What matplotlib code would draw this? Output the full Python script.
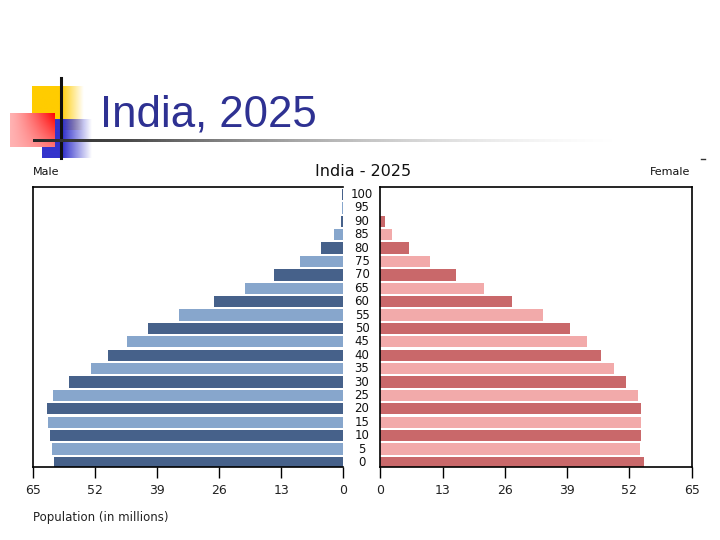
import numpy as np
import matplotlib.pyplot as plt
from matplotlib.lines import Line2D
from matplotlib.transforms import blended_transform_factory

# population pyramid data, millions (index 0 = age 0-4)
ages = [0, 5, 10, 15, 20, 25, 30, 35, 40, 45, 50, 55, 60, 65, 70, 75, 80, 85, 90, 95, 100]
male = [60.6, 61.0, 61.4, 61.9, 62.1, 60.8, 57.3, 52.9, 49.3, 45.2, 40.8,
        34.3, 27.0, 20.5, 14.5, 9.0, 4.7, 1.9, 0.5, 0.2, 0.3]
female = [55.0, 54.2, 54.4, 54.4, 54.4, 53.8, 51.3, 48.8, 46.1, 43.1, 39.6,
          34.0, 27.5, 21.6, 15.8, 10.4, 6.0, 2.4, 1.0, 0.0, 0.0]
xticks = [0, 13, 26, 39, 52, 65]

male_colors = ['#46618a', '#87a6cc']
female_colors = ['#c9686a', '#f2aaaa']

W, H = 720, 540
fig = plt.figure(figsize=(7.2, 5.4), dpi=100)


def fx(px):
    return px / W


def fy(py):
    return 1 - py / H


# ---- slide decoration (pixel coordinates) ----
bg = fig.add_axes([0, 0, 1, 1])
bg.set_xlim(0, W)
bg.set_ylim(H, 0)
bg.axis('off')


def hgrad(rgb, x0, x1, y0, y1, solid=0.5, z=1):
    n = 200
    t = np.linspace(0, 1, n)
    alpha = np.clip((1 - t) / (1 - solid), 0, 1)
    alpha = np.where(t < solid, 1.0, alpha)
    img = np.zeros((1, n, 4))
    img[..., :3] = rgb
    img[..., 3] = alpha
    bg.imshow(img, extent=[x0, x1, y1, y0], aspect='auto',
              interpolation='bilinear', zorder=z)


hgrad((1.0, 0.8, 0.0), 32, 84, 86, 130, solid=0.55, z=1)
hgrad((0.2, 0.2, 0.8), 42, 92, 119, 158, solid=0.42, z=2)

# red square, bright at top right, pale towards bottom left (opaque)
n = 120
gx, gy = np.meshgrid(np.linspace(0, 1, n), np.linspace(0, 1, n))
k = np.clip(0.3 + 0.7 * gx ** 1.3 * (1 - 0.65 * gy), 0, 1)
red = np.ones((n, n, 3))
red[..., 1] = 1 - k
red[..., 2] = 1 - k
bg.imshow(red, extent=[10, 55, 147, 113], aspect='auto',
          interpolation='bilinear', zorder=3)

bg.plot([61, 61], [78, 158], color='#111111', lw=2.2, zorder=4)

# horizontal rule fading out to the right
m = 400
line = np.ones((1, m, 4))
t = np.linspace(0, 1, m)
shade = np.clip(0.15 + 0.95 * t, 0, 1)
line[..., 0] = shade
line[..., 1] = shade
line[..., 2] = shade
line[..., 3] = np.clip(1.15 - t, 0, 1)
bg.imshow(line, extent=[33, 680, 142.3, 139.7], aspect='auto',
          interpolation='bilinear', zorder=4)

bg.text(100, 126, 'India, 2025', fontsize=31.5, family='Liberation Sans',
        color='#2e3192', va='baseline', ha='left', zorder=5)
fig.add_artist(Line2D([fx(701), fx(705)], [fy(159), fy(159)], color='#333333', lw=1))

# ---- pyramid ----
idx = np.arange(len(ages))
ax_l = fig.add_axes([fx(32.7), fy(467), fx(310.6), 280 / H])
ax_r = fig.add_axes([fx(380.3), fy(467), fx(311.4), 280 / H])

ax_l.barh(idx, male, height=0.84, color=[male_colors[i % 2] for i in idx], linewidth=0)
ax_r.barh(idx, female, height=0.84, color=[female_colors[i % 2] for i in idx], linewidth=0)

ax_l.set_xlim(65, 0)
ax_r.set_xlim(0, 65)
for ax in (ax_l, ax_r):
    ax.set_ylim(-0.34, 20.56)
    ax.set_yticks([])
    ax.set_xticks(xticks)
    ax.set_xticklabels([str(v) for v in xticks])
    ax.tick_params(axis='x', direction='out', length=8, width=1,
                   labelsize=9, pad=4, labelcolor='#222222')
    for s in ax.spines.values():
        s.set_linewidth(1.2)
ax_l.spines['right'].set_visible(False)

tr = blended_transform_factory(fig.transFigure, ax_l.transData)
for i, a in enumerate(ages):
    ax_l.text(fx(362), i, str(a), transform=tr, ha='center', va='center',
              fontsize=8.5, color='#111111', clip_on=False)

fig.text(fx(33), fy(172), 'Male', fontsize=8, ha='left', va='center', color='#111111')
fig.text(fx(690), fy(172), 'Female', fontsize=8, ha='right', va='center', color='#111111')
fig.text(fx(363), fy(172), 'India - 2025', fontsize=11.5, ha='center', va='center', color='#111111')
fig.text(fx(33), fy(518), 'Population (in millions)', fontsize=8.5, ha='left',
         va='center', color='#222222')

fig.savefig('out.png', dpi=100)
